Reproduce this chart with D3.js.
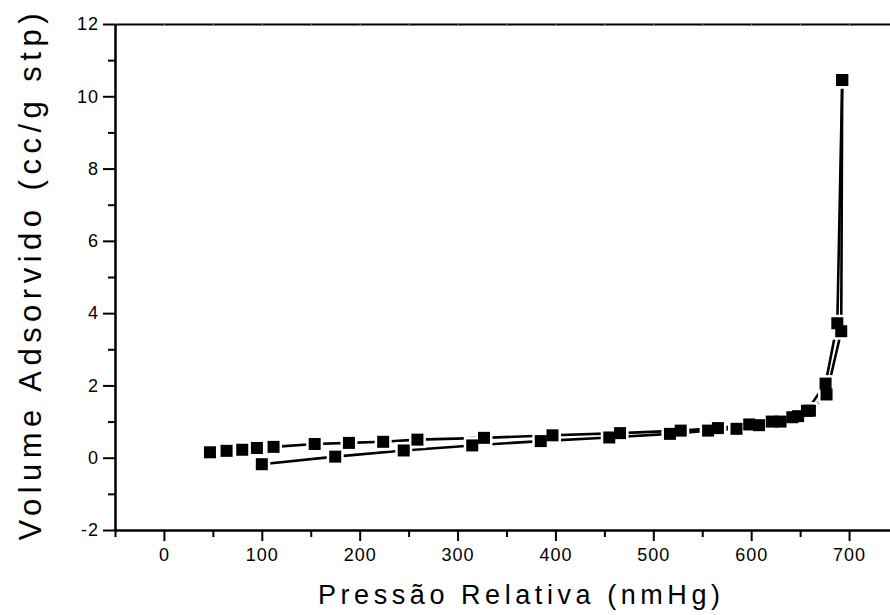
<!DOCTYPE html>
<html><head><meta charset="utf-8">
<script src="https://cdn.jsdelivr.net/npm/d3@7"></script>
<style>body{margin:0;background:#fff}svg{display:block}text{font-family:"Liberation Sans",Arial,sans-serif;fill:#000}</style>
</head><body><svg id="c" width="890" height="615"></svg>
<script>
// Adsorption branch (lower)
const adsX = [100, 175, 245, 315, 385, 455, 517, 556, 585, 608, 630, 648, 660, 677, 692, 693];
const adsY = [-0.18, 0.03, 0.2, 0.34, 0.46, 0.56, 0.66, 0.75, 0.8, 0.9, 1.0, 1.15, 1.3, 1.75, 3.5, 10.45];
// Desorption branch (upper)
const desX = [693, 688, 676, 657, 642, 621, 598, 566, 528, 466, 397, 327, 259, 224, 189, 154, 112, 95, 80, 64, 47];
const desY = [10.45, 3.72, 2.05, 1.3, 1.12, 1.0, 0.92, 0.82, 0.75, 0.68, 0.62, 0.55, 0.5, 0.44, 0.41, 0.38, 0.3, 0.27, 0.22, 0.19, 0.15];
const xMajor = [0, 100, 200, 300, 400, 500, 600, 700];
const xMinor = [-50, 50, 150, 250, 350, 450, 550, 650, 750];
const yMajor = [-2, 0, 2, 4, 6, 8, 10, 12];
const yMinor = [-1, 1, 3, 5, 7, 9, 11];
const xTitle = "Pressão Relativa (nmHg)";
const yTitle = "Volume Adsorvido (cc/g stp)";

const svg = d3.select("#c");
const x = d3.scaleLinear().domain([-50, 750]).range([115, 898]);
const y = d3.scaleLinear().domain([-2, 12]).range([530, 24]);
const fmt = d => String(d);

function styleAxis(g){
  g.select(".domain").attr("stroke","#000").attr("stroke-width",2);
  g.selectAll(".tick line").attr("stroke","#000").attr("stroke-width",2);
  g.selectAll(".tick text").attr("font-size",18).attr("letter-spacing","1px")
    .attr("font-family",'"Liberation Sans",Arial,sans-serif');
}
// bottom axis
const gb = svg.append("g").attr("transform","translate(0,530)")
  .call(d3.axisBottom(x).tickValues(xMajor).tickFormat(fmt).tickSize(11).tickPadding(7).tickSizeOuter(0));
styleAxis(gb);
const gbm = svg.append("g").attr("transform","translate(0,530)")
  .call(d3.axisBottom(x).tickValues(xMinor).tickSize(7).tickFormat("").tickSizeOuter(0));
styleAxis(gbm);
// top axis line
const gt = svg.append("g").attr("transform","translate(0,24)")
  .call(d3.axisTop(x).tickValues(xMajor.concat(xMinor)).tickSize(-2).tickFormat("").tickSizeOuter(0));
styleAxis(gt);
gt.selectAll(".tick line").attr("stroke","#888").attr("stroke-width",1);
// left axis
const gl = svg.append("g").attr("transform","translate(115,0)")
  .call(d3.axisLeft(y).tickValues(yMajor).tickFormat(fmt).tickSize(12).tickPadding(4).tickSizeOuter(0));
styleAxis(gl);
const glm = svg.append("g").attr("transform","translate(115,0)")
  .call(d3.axisLeft(y).tickValues(yMinor).tickSize(7).tickFormat("").tickSizeOuter(0));
styleAxis(glm);

const ads = adsX.map((v,i)=>[v, adsY[i]]);
const des = desX.map((v,i)=>[v, desY[i]]);
const line = d3.line().x(d=>x(d[0])).y(d=>y(d[1]));
[ads, des].forEach(s=>{
  svg.append("path").datum(s).attr("d",line).attr("fill","none")
    .attr("stroke","#000").attr("stroke-width",2.6).attr("stroke-linejoin","round");
});
const all = ads.concat(des);
const ms = 12, halo = 17;
svg.append("g").selectAll("rect").data(all).join("rect")
  .attr("x",d=>x(d[0])-halo/2).attr("y",d=>y(d[1])-halo/2)
  .attr("width",halo).attr("height",halo).attr("fill","#fff");
svg.append("g").selectAll("rect").data(all).join("rect")
  .attr("x",d=>x(d[0])-ms/2).attr("y",d=>y(d[1])-ms/2)
  .attr("width",ms).attr("height",ms).attr("fill","#000");

svg.append("text").attr("x",519).attr("y",604).attr("text-anchor","middle")
  .attr("font-size",27).attr("textLength",402).attr("lengthAdjust","spacing").text(xTitle);
svg.append("text").attr("transform","translate(41,277) rotate(-90)").attr("text-anchor","middle")
  .attr("font-size",31).attr("textLength",527).attr("lengthAdjust","spacing").text(yTitle);
</script></body></html>
